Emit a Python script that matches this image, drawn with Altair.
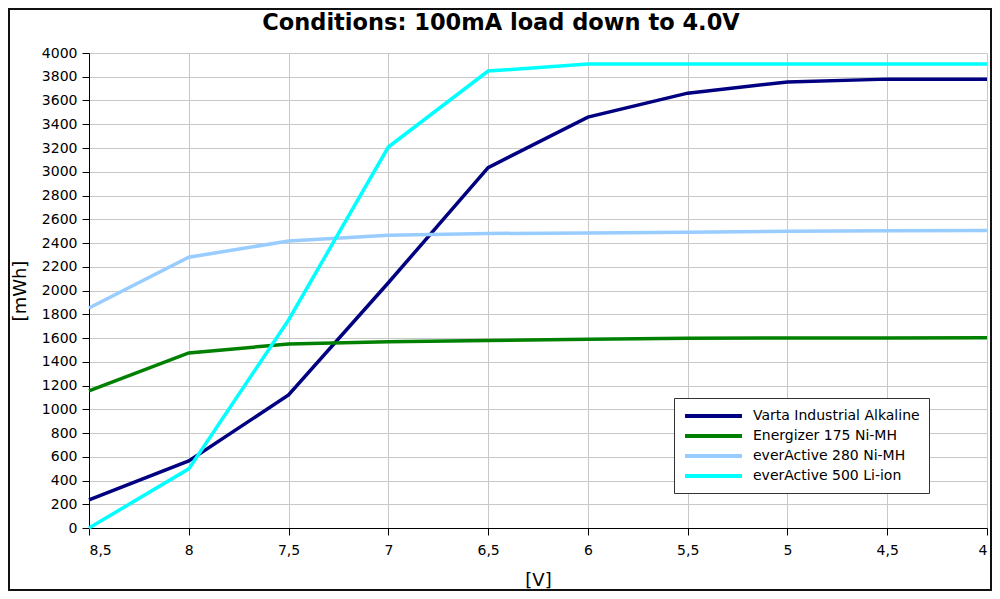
import altair as alt
import pandas as pd

voltages = [8.5, 8, 7.5, 7, 6.5, 6, 5.5, 5, 4.5, 4]
series_names = ["Varta Industrial Alkaline", "Energizer 175 Ni-MH",
                "everActive 280 Ni-MH", "everActive 500 Li-ion"]
varta = [236, 565, 1120, 2065, 3035, 3460, 3662, 3756, 3780, 3780]
energizer = [1155, 1474, 1550, 1568, 1578, 1590, 1598, 1600, 1600, 1602]
ea280 = [1853, 2280, 2417, 2465, 2480, 2485, 2490, 2498, 2503, 2506]
ea500 = [0, 498, 1752, 3208, 3848, 3907, 3907, 3907, 3907, 3907]
colors = ["#000080", "#008000", "#99ccff", "#00ffff"]
y_ticks = list(range(0, 4001, 200))
chart_title = "Conditions: 100mA load down to 4.0V"

rows = []
for name, vals in zip(series_names, [varta, energizer, ea280, ea500]):
    for v, e in zip(voltages, vals):
        rows.append({"V": v, "mWh": e, "series": name})
df = pd.DataFrame(rows)

FONT = "DejaVu Sans"

lines = alt.Chart(df).mark_line(strokeWidth=3.5, strokeJoin="miter").encode(
    x=alt.X("V:Q", title="[V]",
            scale=alt.Scale(domain=[4, 8.5], reverse=True, nice=False),
            axis=alt.Axis(values=voltages,
                          labelExpr="replace(format(datum.value, '~g'), '.', ',')",
                          tickSize=7, labelPadding=8, titlePadding=14)),
    y=alt.Y("mWh:Q", title="[mWh]",
            scale=alt.Scale(domain=[0, 4000], nice=False),
            axis=alt.Axis(values=y_ticks, format="d", tickSize=7, labelPadding=5,
                          titlePadding=12)),
    color=alt.Color("series:N", sort=series_names,
                    scale=alt.Scale(domain=series_names, range=colors),
                    legend=alt.Legend(title=None, orient="none", legendX=585, legendY=345,
                                      symbolType="M-1,0H7.14", symbolSize=196,
                                      symbolStrokeWidth=4, labelOffset=52,
                                      labelFontSize=14, labelFont=FONT, labelColor="black",
                                      labelLimit=400, padding=9, rowPadding=3,
                                      fillColor="white", strokeColor="#333333")),
    order=alt.Order("V:Q", sort="descending"),
)

title_mark = alt.Chart(alt.Data(values=[{}])).mark_text(
    font=FONT, fontSize=22.5, fontWeight="bold", color="black",
    align="center", baseline="middle"
).encode(x=alt.value(412), y=alt.value(-30), text=alt.value(chart_title))

frame = alt.Chart(alt.Data(values=[{}])).mark_rect(
    filled=False, stroke="#111111", strokeWidth=2
).encode(x=alt.value(-80), x2=alt.value(902), y=alt.value(-44), y2=alt.value(537))

chart = alt.layer(lines, title_mark, frame).properties(
    width=898, height=475,
    autosize=alt.AutoSizeParams(type="none"),
    padding={"left": 81, "top": 45, "right": 5, "bottom": 63},
).configure_axis(
    labelFont=FONT, titleFont=FONT, labelFontSize=14, titleFontSize=18,
    titleFontWeight="normal", labelColor="black", titleColor="black",
    domainColor="black", tickColor="black", gridColor="#c8c8c8", gridWidth=1,
).configure_view(stroke=None)

chart.save("out.html", embed_options={"renderer": "svg", "actions": False})
